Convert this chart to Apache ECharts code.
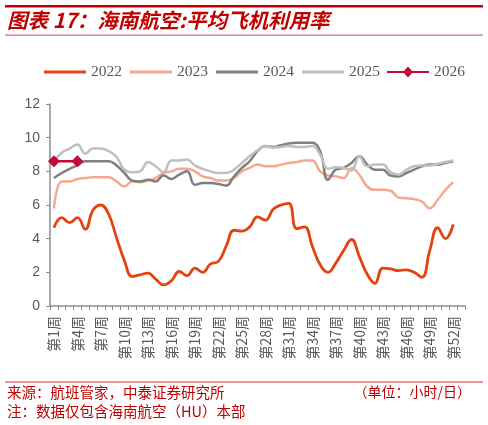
<!DOCTYPE html>
<html><head><meta charset="utf-8">
<script src="https://cdn.jsdelivr.net/npm/echarts@6/dist/echarts.min.js"></script>
<style>html,body{margin:0;padding:0;background:#fff}#c{width:488px;height:425px}</style>
</head><body><div id="c"></div>
<script>
const weeks = [];
for (let i = 1; i <= 53; i++) weeks.push('第' + i + '周');
const yTicks = [0, 2, 4, 6, 8, 10, 12];
const s2022 = [4.65,5.25,4.95,5.25,4.55,5.7,6.0,5.45,4.05,2.7,1.75,1.85,1.95,1.6,1.25,1.5,2.05,1.8,2.25,2.0,2.5,2.65,3.55,4.5,4.45,4.7,5.3,5.1,5.75,6.0,6.1,4.6,4.7,3.55,2.45,2.0,2.55,3.3,3.95,2.95,1.9,1.35,2.25,2.2,2.1,2.15,2.0,1.7,3.3,4.65,4.0,4.85];
const s2023 = [5.8,7.4,7.4,7.55,7.6,7.65,7.65,7.65,7.4,7.1,7.4,7.35,7.45,7.6,7.9,8.0,8.15,8.15,8.0,7.7,7.6,7.45,7.45,7.6,8.0,8.2,8.4,8.3,8.3,8.4,8.5,8.55,8.65,8.65,8.0,7.75,7.7,7.6,8.2,7.8,7.1,6.9,6.9,6.85,6.45,6.4,6.35,6.2,5.8,6.3,6.9,7.35];
const s2024 = [7.6,7.9,8.15,8.35,8.6,8.6,8.6,8.6,8.35,7.9,7.45,7.4,7.5,7.4,7.75,7.55,7.8,8.0,7.2,7.3,7.3,7.25,7.15,7.7,8.2,8.6,9.2,9.5,9.45,9.55,9.65,9.7,9.7,9.7,9.2,7.5,8.1,8.2,8.5,8.9,8.4,8.1,8.1,7.75,7.7,7.9,8.1,8.3,8.4,8.4,8.5,8.6];
const s2025 = [8.6,9.1,9.35,9.6,9.05,9.35,9.35,9.2,8.85,8.1,7.95,8.0,8.55,8.3,7.95,8.65,8.65,8.7,8.35,8.15,8.0,7.9,7.9,8.1,8.5,8.9,9.25,9.5,9.4,9.45,9.5,9.45,9.45,9.5,9.0,8.15,8.25,8.2,8.05,8.9,8.3,8.4,8.4,7.95,7.8,8.1,8.3,8.35,8.35,8.45,8.55,8.65];
const s2026 = [8.6,8.6,8.6,8.6];
const names = ['2022','2023','2024','2025','2026'];
const colors = ['#E4420E','#F6A88F','#7F7F7F','#BFBFBF','#C40A3A'];
const datas = [s2022,s2023,s2024,s2025,s2026];

const chart = echarts.init(document.getElementById('c'), null, {renderer:'canvas'});
const series = names.map((n,i)=>({
  name:n, type:'line', data:datas[i], smooth:0.45,
  symbol: i===4 ? 'diamond' : 'none', symbolSize: i===4 ? 12 : 0,
  showSymbol: i===4,
  lineStyle:{color:colors[i], width: i===0 ? 2.8 : 2.5},
  itemStyle:{color:colors[i]},
  z: 2+i
}));
const legText = {fontFamily:'Liberation Serif', fontSize:15.5, color:'#595959'};
chart.setOption({
  animation:false,
  grid:{left:50, right:23, top:104, bottom:119, containLabel:false},
  legend:[
    {left:39, top:59, itemWidth:42, itemHeight:3, itemGap:8, icon:'rect',
     data:names.slice(0,4), textStyle:legText},
    {left:382, top:59, itemWidth:42, itemHeight:11, icon:'path://M0,4.4L42,4.4L42,6.6L0,6.6Z M21,0L26,5.5L21,11L16,5.5Z',
     data:names.slice(4), textStyle:legText}
  ],
  xAxis:{type:'category', data:weeks, boundaryGap:true,
    axisLine:{lineStyle:{color:'#8C8C8C', width:1.5}},
    axisTick:{show:true, interval:0, length:4, lineStyle:{color:'#8C8C8C'}},
    axisLabel:{interval:2, rotate:90, fontSize:14, color:'#595959', fontFamily:'Noto Sans CJK SC', margin:10},
    splitLine:{show:false}},
  yAxis:{type:'value', min:yTicks[0], max:yTicks[yTicks.length-1], interval:2,
    axisLine:{show:true, lineStyle:{color:'#8C8C8C', width:1.5}},
    axisTick:{show:true, length:4, lineStyle:{color:'#8C8C8C'}},
    axisLabel:{fontSize:14, color:'#595959', fontFamily:'Liberation Sans', margin:10},
    splitLine:{show:false}},
  series:series,
  graphic:[
    {type:'rect', shape:{x:5,y:5,width:478,height:2.5}, style:{fill:'#C00000'}},
    {type:'rect', shape:{x:5,y:34.5,width:478,height:1.2}, style:{fill:'#E07070'}},
    {type:'text', left:7, top:10, style:{text:'图表 17：海南航空:平均飞机利用率', fontFamily:'Noto Sans CJK SC', fontSize:20.5, fontStyle:'italic', fontWeight:'bold', fill:'#C00000'}},
    {type:'rect', shape:{x:5,y:381.5,width:478,height:1}, style:{fill:'#E03030'}},
    {type:'text', left:7, top:385, style:{text:'来源：航班管家，中泰证券研究所', fontFamily:'Noto Sans CJK SC', fontSize:14.5, fill:'#C00000'}},
    {type:'text', right:17, top:385, style:{text:'（单位：小时/日）', fontFamily:'Noto Sans CJK SC', fontSize:14, fill:'#C00000'}},
    {type:'text', left:7, top:404, style:{text:'注：数据仅包含海南航空（HU）本部', fontFamily:'Noto Sans CJK SC', fontSize:14.5, fill:'#C00000'}}
  ]
});
</script></body></html>
